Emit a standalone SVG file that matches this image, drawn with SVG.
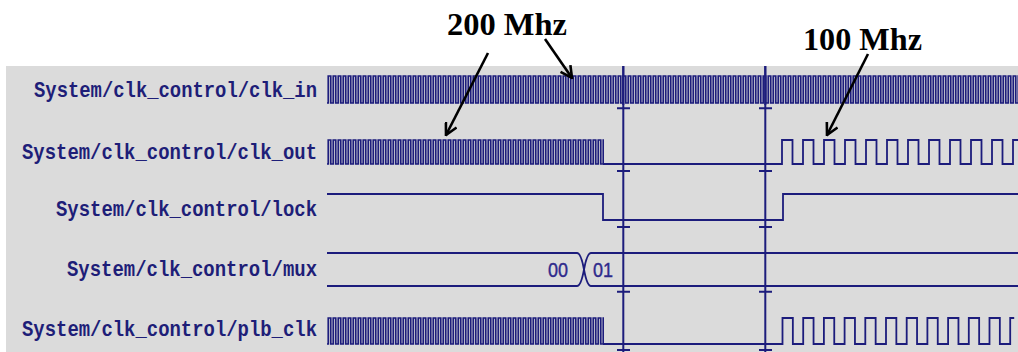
<svg xmlns="http://www.w3.org/2000/svg" width="1018" height="352" viewBox="0 0 1018 352">
<style>
.bg{fill:#dbdbdb}
.w{fill:none;stroke:#1c1c7c;stroke-width:1.8;stroke-linejoin:miter}
.f{fill:none;stroke:#1c1c7c;stroke-width:1.7}
.lbl{font-family:"Liberation Mono","DejaVu Sans Mono",monospace;font-size:22px;fill:#1e1e78;font-weight:bold}
.val{font-family:"Liberation Sans",Arial,sans-serif;font-size:21px;fill:#2e2a8c;stroke:#2e2a8c;stroke-width:0.4}
.ann{font-family:"Liberation Serif","Times New Roman",serif;font-size:31px;font-weight:bold;fill:#000}
.cur{stroke:#1c1c7c;stroke-width:2;fill:none}
.arr{stroke:#000;stroke-width:2.6;fill:none;marker-end:url(#head)}
</style>
<defs>
<marker id="head" markerUnits="userSpaceOnUse" viewBox="0 0 14 14" refX="12.5" refY="7" markerWidth="14" markerHeight="14" orient="auto">
<path d="M1,1 L12.5,7 L1,13" fill="none" stroke="#000" stroke-width="2.6"/>
</marker>
<pattern id="fastIn" patternUnits="userSpaceOnUse" x="327" y="72" width="5" height="36">
<path class="f" d="M0,31 H1.25 V4 H3.75 V31 H5"/>
</pattern>
<pattern id="fastOut" patternUnits="userSpaceOnUse" x="327" y="136" width="5" height="32">
<path class="f" d="M0,28 H1.25 V4 H3.75 V28 H5"/>
</pattern>
<pattern id="fastPlb" patternUnits="userSpaceOnUse" x="327" y="314" width="5" height="34">
<path class="f" d="M0,30 H1.25 V4 H3.75 V30 H5"/>
</pattern>
</defs>
<rect width="1018" height="352" fill="#fff"/>
<rect class="bg" x="6" y="66" width="1012" height="286"/>

<g id="clk_in">
<text class="lbl" x="34" y="97" textLength="283" lengthAdjust="spacingAndGlyphs">System/clk_control/clk_in</text>
<rect x="327" y="72" width="691" height="36" fill="url(#fastIn)"/>
</g>

<g id="clk_out">
<text class="lbl" x="22" y="159" textLength="295" lengthAdjust="spacingAndGlyphs">System/clk_control/clk_out</text>
<rect x="327" y="136" width="277" height="32" fill="url(#fastOut)"/>
<path class="w" d="M603,164 H782 v-24h10.5v24h10.5 v-24h10.5v24h10.5 v-24h10.5v24h10.5 v-24h10.5v24h10.5 v-24h10.5v24h10.5 v-24h10.5v24h10.5 v-24h10.5v24h10.5 v-24h10.5v24h10.5 v-24h10.5v24h10.5 v-24h10.5v24h10.5 v-24h10.5v24h10.5 v-24h6"/>
</g>

<g id="lock">
<text class="lbl" x="56" y="216" textLength="261" lengthAdjust="spacingAndGlyphs">System/clk_control/lock</text>
<path class="w" d="M327,194 H603 V220 H783 V194 H1018"/>
</g>

<g id="mux">
<text class="lbl" x="67" y="276" textLength="250" lengthAdjust="spacingAndGlyphs">System/clk_control/mux</text>
<path class="w" d="M327,253 H577 C581,253 583,264 584,269.5 C583,275 581,286 577,286 H327"/>
<path class="w" d="M1018,253 H591 C587,253 585,264 584,269.5 C585,275 587,286 591,286 H1018"/>
<text class="val" x="548" y="277" textLength="20" lengthAdjust="spacingAndGlyphs">00</text>
<text class="val" x="593" y="277" textLength="20" lengthAdjust="spacingAndGlyphs">01</text>
</g>

<g id="plb_clk">
<text class="lbl" x="22" y="336" textLength="295" lengthAdjust="spacingAndGlyphs">System/clk_control/plb_clk</text>
<rect x="327" y="314" width="277" height="34" fill="url(#fastPlb)"/>
<path class="w" d="M603,344 H782.5 v-26h10.35v26h10.35 v-26h10.35v26h10.35 v-26h10.35v26h10.35 v-26h10.35v26h10.35 v-26h10.35v26h10.35 v-26h10.35v26h10.35 v-26h10.35v26h10.35 v-26h10.35v26h10.35 v-26h10.35v26h10.35 v-26h10.35v26h10.35 v-26h10.35v26h10.35 v-26h4"/>
</g>

<g id="cursors">
<path class="cur" d="M623.3,66 V352 M765.3,66 V352"/>
<path class="cur" stroke-width="3.5" d="M623.3,66 V105 M765.3,66 V105"/>
<path class="cur" d="M617,108.3 H630 M617,171 H630 M617,227 H630 M617,291.7 H630 M617,350 H630 M759,108.3 H772 M759,171 H772 M759,227 H772 M759,291.7 H772 M759,350 H772"/>
</g>

<g id="annotation-200">
<text class="ann" x="447" y="35" textLength="120" lengthAdjust="spacingAndGlyphs">200 Mhz</text>
</g>
<g id="annotation-100">
<text class="ann" x="803" y="50" textLength="119" lengthAdjust="spacingAndGlyphs">100 Mhz</text>
</g>

<g id="connectors">
<line class="arr" x1="488" y1="53" x2="446" y2="135"/>
<line class="arr" x1="545" y1="39" x2="572" y2="78"/>
<line class="arr" x1="868" y1="54" x2="827" y2="135"/>
</g>
</svg>
